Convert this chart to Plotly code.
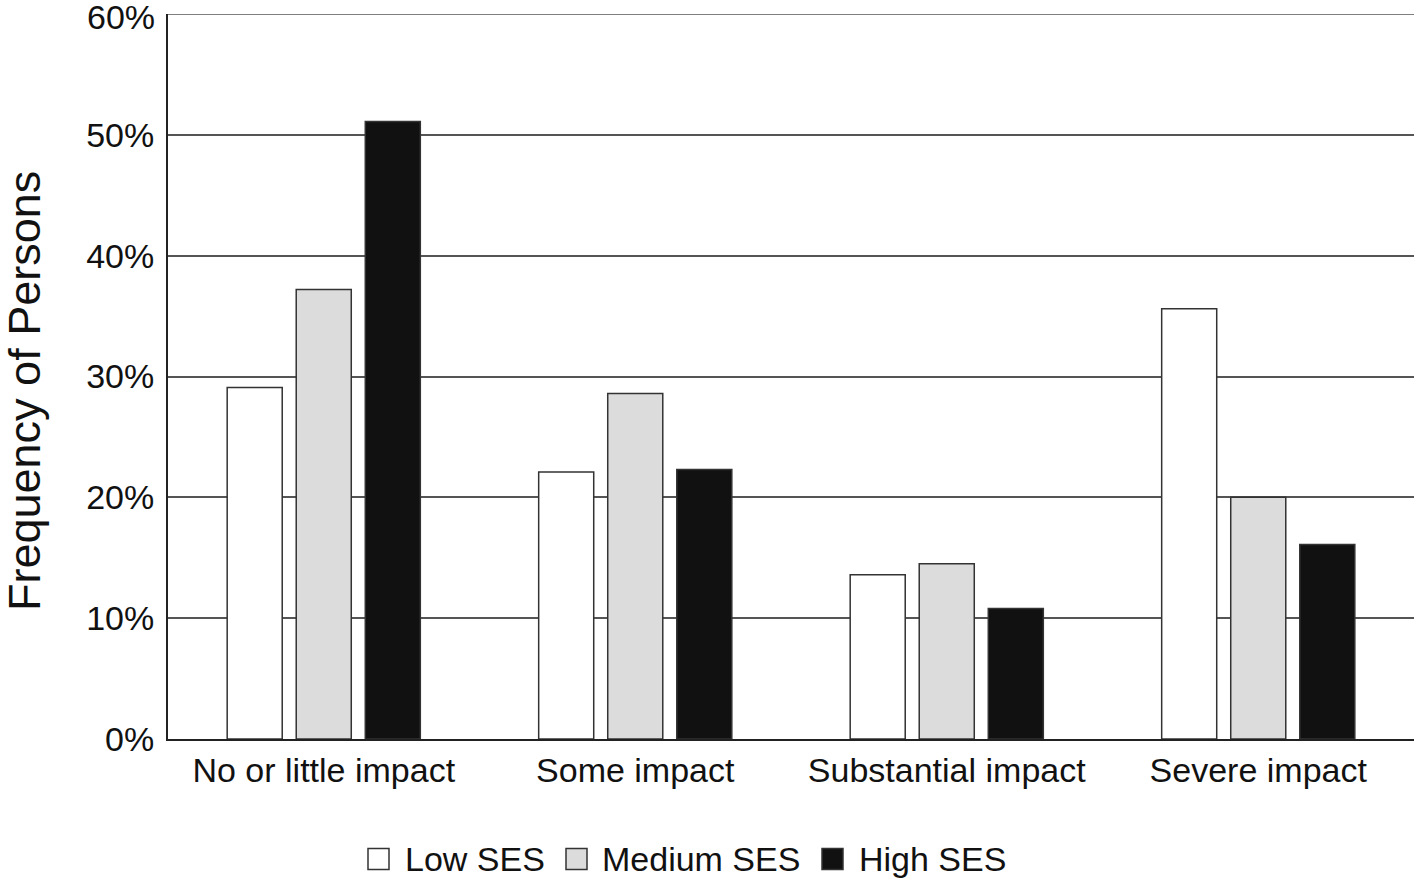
import plotly.graph_objects as go

categories = ["No or little impact", "Some impact", "Substantial impact", "Severe impact"]
series_names = ["Low SES", "Medium SES", "High SES"]
low_ses = [0.291, 0.221, 0.136, 0.356]
medium_ses = [0.372, 0.286, 0.145, 0.200]
high_ses = [0.511, 0.223, 0.108, 0.161]
tick_vals = [0, 0.1, 0.2, 0.3, 0.4, 0.5, 0.6]
tick_text = ["0%", "10%", "20%", "30%", "40%", "50%", "60%"]

fills = ["#ffffff", "#dcdcdc", "#111111"]
values = [low_ses, medium_ses, high_ses]

fig = go.Figure()
for name, vals, col in zip(series_names, values, fills):
    fig.add_trace(go.Bar(
        x=categories, y=vals, name=name, showlegend=False,
        marker=dict(color=col, line=dict(color="#333333", width=1.5)),
    ))

font_family = "Liberation Sans, Arial, sans-serif"

W, H = 1416, 883
ML, MR, MT, MB = 168, 2, 14, 144
plot_w = W - ML - MR
plot_h = H - MT - MB

def px_x(page_x):
    return (page_x - ML) / plot_w

def px_y(page_y):
    return (H - MB - page_y) / plot_h

# manual legend (swatch squares + labels)
legend_sq_left = [368, 566, 822]
legend_txt_left = [403, 600, 857]
sq_size = 21
leg_cy = 859
for name, col, sx, tx in zip(series_names, fills, legend_sq_left, legend_txt_left):
    fig.add_shape(type="rect", xref="paper", yref="paper",
                  x0=px_x(sx), x1=px_x(sx + sq_size),
                  y0=px_y(leg_cy - sq_size / 2), y1=px_y(leg_cy + sq_size / 2),
                  fillcolor=col, line=dict(color="#333333", width=1.5))
    fig.add_annotation(text=name, xref="paper", yref="paper",
                       x=px_x(tx), y=px_y(leg_cy), xanchor="left", yanchor="middle",
                       showarrow=False, font=dict(size=34, family=font_family, color="#111111"))

# y-axis title
fig.add_annotation(text="Frequency of Persons", xref="paper", yref="paper",
                   x=px_x(24), y=px_y(391), xanchor="center", yanchor="middle",
                   textangle=-90, showarrow=False,
                   font=dict(size=45, family=font_family, color="#111111"))

# top tick label (nudged down slightly so it stays inside the page)
fig.add_annotation(text=tick_text[-1], xref="paper", yref="y",
                   x=0, y=tick_vals[-1], xanchor="right", yanchor="middle",
                   xshift=-11, yshift=-3, showarrow=False,
                   font=dict(size=34, family=font_family, color="#111111"))

# top gridline at 60%
fig.add_shape(type="line", xref="paper", yref="y", x0=0, x1=1,
              y0=tick_vals[-1], y1=tick_vals[-1],
              line=dict(color="#555555", width=1.5))

fig.update_layout(
    width=W, height=H,
    paper_bgcolor="white", plot_bgcolor="white",
    margin=dict(l=ML, r=MR, t=MT, b=MB, autoexpand=False),
    barmode="group", bargap=0.335, bargroupgap=0.203,
    font=dict(family=font_family, color="#111111", size=34),
    showlegend=False,
    xaxis=dict(showline=True, linecolor="#222222", linewidth=2, ticks="",
               tickfont=dict(size=34), showgrid=False, automargin=False),
    yaxis=dict(range=[0, 0.6], tickvals=tick_vals[:-1], ticktext=tick_text[:-1],
               showgrid=True, gridcolor="#555555", gridwidth=1.5,
               showline=True, linecolor="#222222", linewidth=2,
               ticks="", ticklabelstandoff=5, tickfont=dict(size=34),
               zeroline=False, automargin=False),
)
fig.write_html("out.html", config={"displayModeBar": False},
               post_script="document.body.style.margin='0';")
